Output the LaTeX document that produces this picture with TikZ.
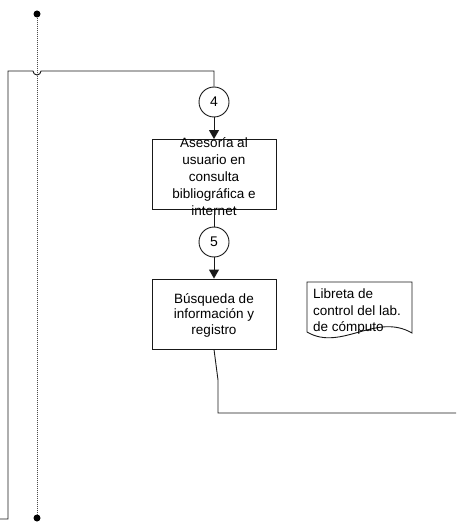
\documentclass[tikz,border=0pt]{standalone}
\usepackage{fontspec}
\setmainfont{Liberation Sans}
\usetikzlibrary{arrows.meta}
\begin{document}
\begin{tikzpicture}[x=1pt,y=-1pt,
  line/.style={draw=black!90,line width=0.9pt},
  arr/.style={line,-{Triangle[length=9pt,width=10pt]}},
  conn/.style={circle,draw=black!90,line width=0.9pt,minimum size=30pt,inner sep=0pt,font=\fontsize{14}{16}\selectfont},
  procbox/.style={rectangle,draw=black!90,line width=0.9pt,minimum width=124pt,minimum height=70pt,inner sep=0pt},
  txt/.style={align=center,inner sep=0pt,font=\fontsize{13.5}{15.5}\selectfont},
  txtwide/.style={align=center,inner sep=0pt,font=\fontsize{13.5}{16.8}\selectfont},
  doctxt/.style={align=left,inner sep=0pt,font=\fontsize{13.5}{16.5}\selectfont},
  dotline/.style={draw=black!70,line width=0.9pt,dash pattern=on 1pt off 1pt},
  dot/.style={circle,fill=black,minimum size=7pt,inner sep=0pt}
]
\useasboundingbox (0,0) rectangle (456,529);

% swimlane dotted line
\node[dot] (dtop) at (37,14) {};
\node[dot] (dbot) at (37,518) {};
\draw[dotline] (dtop) -- (dbot);

% connectors and boxes
\node[conn] (c4) at (214,102) {4};
\node[procbox] (b1) at (214,174.5) {};
\node[txtwide] (t1) at (214,176.5) {Asesoría al\\usuario en\\consulta\\bibliográfica e\\internet};
\node[conn] (c5) at (214,242) {5};
\node[procbox] (b2) at (214,314) {};
\node[txt] (t2) at (214,315) {Búsqueda de\\información y\\registro};

% document shape
\coordinate (dtl) at (307,282);
\coordinate (dtr) at (412,282);
\coordinate (dbr) at (412,333);
\coordinate (dbl) at (307,332);
\draw[line] (dbl) -- (dtl) -- (dtr) -- (dbr)
  .. controls (376,312) and (341,352) .. (dbl);
\node[doctxt,anchor=north west] (dt) at (313,289) {Libreta de\\control del lab.\\de cómputo};

% incoming line with hop
\coordinate (l0) at (0,519);
\coordinate (l1) at (8,519);
\coordinate (l2) at (8,71);
\coordinate (h1) at (33,71);
\coordinate (h2) at (41,71);
\coordinate (r1) at (214,71);
\draw[line] (l0) -- (l1) -- (l2) -- (h1) arc[start angle=180,end angle=0,radius=4] -- (r1) -- (c4.north);

\draw[arr] (c4.south) -- (b1.north);
\draw[line] (b1.south) -- (c5.north);
\draw[arr] (c5.south) -- (b2.north);

% outgoing line
\coordinate (k1) at (218,380);
\coordinate (k2) at (218,413);
\coordinate (k3) at (456,413);
\draw[line] (b2.south) -- (k1) -- (k2) -- (k3);
\end{tikzpicture}
\end{document}
